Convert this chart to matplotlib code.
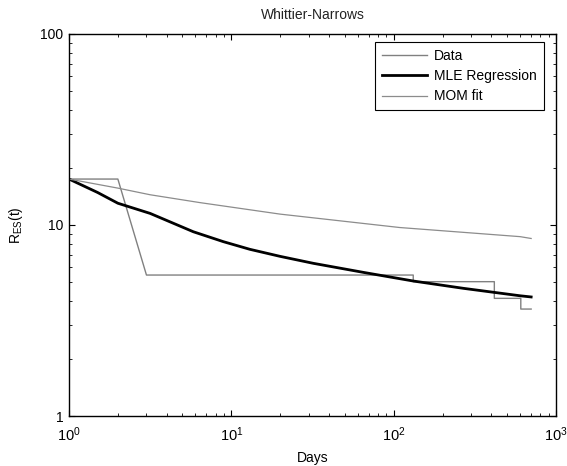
import matplotlib
matplotlib.use("Agg")
import matplotlib.pyplot as plt
from matplotlib.ticker import FixedLocator, FixedFormatter, LogLocator, NullFormatter

plt.rcParams['font.family'] = ['Liberation Sans', 'DejaVu Sans']
plt.rcParams['mathtext.fontset'] = 'custom'
plt.rcParams['mathtext.rm'] = 'Liberation Sans'
plt.rcParams['mathtext.it'] = 'Liberation Sans:italic'
plt.rcParams['mathtext.bf'] = 'Liberation Sans:bold'

title = "Whittier-Narrows"

data_days = [1, 2, 3, 132, 132, 417, 417, 607, 607, 703]
data_vals = [17.4, 17.4, 5.47, 5.47, 5.05, 5.05, 4.13, 4.13, 3.63, 3.63]

mle_days = [1, 1.5, 2, 3.16, 5.83, 8.93, 13.0, 20, 32, 65, 132, 269, 601, 703]
mle_vals = [17.4, 14.8, 13.0, 11.5, 9.22, 8.18, 7.46, 6.85, 6.30, 5.65, 5.09, 4.66, 4.26, 4.2]

mom_days = [1, 2, 3.16, 6.4, 20, 26.5, 109, 601, 703]
mom_vals = [17.4, 15.6, 14.4, 13.1, 11.4, 11.1, 9.7, 8.69, 8.5]

fig = plt.figure(figsize=(5.67, 4.66), dpi=100)
ax = fig.add_axes([69/567, 50/466, (556-69)/567, (416-34)/466])

ax.plot(data_days, data_vals, color='#808080', lw=1.0, label='Data')
ax.plot(mle_days, mle_vals, color='black', lw=2.0, label='MLE Regression')
ax.plot(mom_days, mom_vals, color='#8c8c8c', lw=0.9, label='MOM fit')

ax.set_xscale('log')
ax.set_yscale('log')
ax.set_xlim(1, 1000)
ax.set_ylim(1, 100)

ax.yaxis.set_major_locator(FixedLocator([1, 10, 100]))
ax.yaxis.set_major_formatter(FixedFormatter(['1', '10', '100']))
ax.yaxis.set_minor_locator(LogLocator(base=10, subs=range(2, 10)))
ax.yaxis.set_minor_formatter(NullFormatter())
ax.xaxis.set_minor_locator(LogLocator(base=10, subs=range(2, 10)))
ax.xaxis.set_minor_formatter(NullFormatter())

ax.tick_params(which='both', direction='in', top=True, right=True, labelsize=10, colors='black')
ax.tick_params(which='major', length=4, width=0.8)
ax.tick_params(which='minor', length=2, width=0.6)
ax.tick_params(axis='x', which='major', pad=7, labelsize=10.5)
ax.tick_params(axis='y', which='major', pad=4)
for s in ax.spines.values():
    s.set_linewidth(1.0)
    s.set_color('black')

ax.set_title(title, fontsize=10, pad=11, color='#222222')
ax.set_xlabel('Days', fontsize=10, labelpad=5)
ax.set_ylabel(r'R$_{\mathrm{ES}}$(t)', fontsize=10, labelpad=11)

leg = ax.legend(loc='upper right', bbox_to_anchor=(1 - 12/487, 1 - 8/382), fontsize=10,
                frameon=True, fancybox=False, edgecolor='black', framealpha=1,
                handlelength=3.3, borderpad=0.5, labelspacing=0.45, handletextpad=0.5,
                borderaxespad=0)
leg.get_frame().set_linewidth(0.8)

fig.savefig('out.png', dpi=100)
